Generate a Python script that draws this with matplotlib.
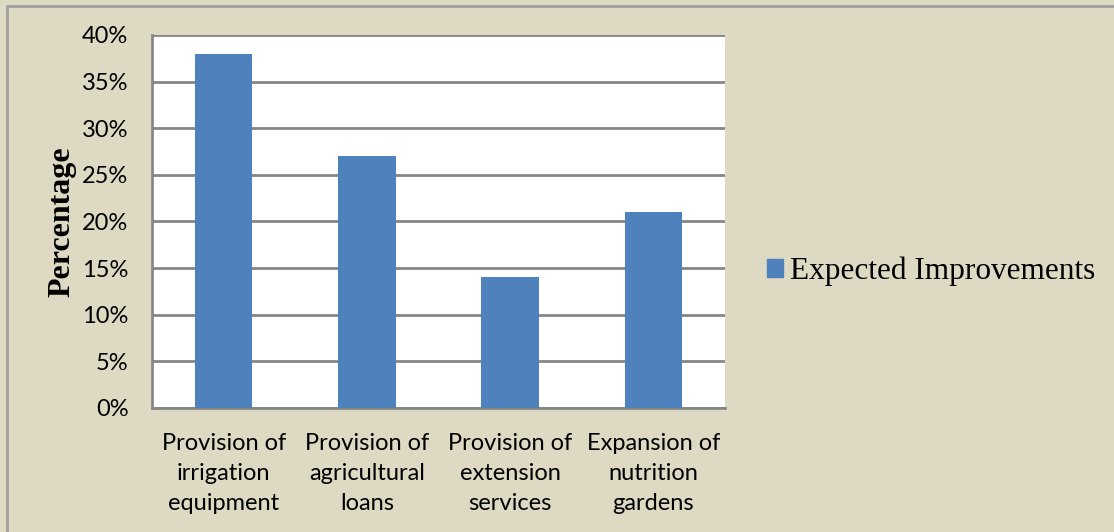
import matplotlib.pyplot as plt
from matplotlib.patches import Rectangle, Patch
from matplotlib.ticker import PercentFormatter

# dados
categorias = ["Provision of\nirrigation\nequipment",
              "Provision of\nagricultural\nloans",
              "Provision of\nextension\nservices",
              "Expansion of\nnutrition\ngardens"]
valores = [38, 27, 14, 21]
serie = "Expected Improvements"

fundo = "#DDD9C3"
azul = "#4F81BD"
cinza = "#868686"

fig = plt.figure(figsize=(11.14, 5.32), dpi=100, facecolor=fundo)
ax = fig.add_axes([152/1114, 1-408/532, 573/1114, 373/532])
ax.set_facecolor("white")

x = range(len(categorias))
ax.bar(x, valores, width=0.4, color=azul, zorder=3)

ax.set_ylim(0, 40)
ax.set_xlim(-0.5, len(categorias) - 0.5)
ax.set_yticks(range(0, 41, 5))
ax.yaxis.set_major_formatter(PercentFormatter(decimals=0))
ax.grid(axis="y", color=cinza, linewidth=2, zorder=0)
ax.set_xticks(list(x))
ax.set_xticklabels(categorias, fontsize=17, family="Lato", linespacing=1.52)
for t in ax.get_yticklabels():
    t.set_fontsize(17)
    t.set_family("Lato")
ax.tick_params(axis="y", length=0, pad=17)
ax.tick_params(axis="x", length=0, pad=18)

for s in ["top", "right"]:
    ax.spines[s].set_visible(False)
for s in ["left", "bottom"]:
    ax.spines[s].set_color(cinza)
    ax.spines[s].set_linewidth(2)

ax.set_ylabel("Percentage", family="Liberation Serif", fontweight="bold",
              fontsize=23, labelpad=4)

fig.legend(handles=[Patch(color=azul, label=serie)], loc="center left",
           bbox_to_anchor=(767/1114, 1-271/532), frameon=False, borderpad=0,
           borderaxespad=0,
           prop={"family": "Liberation Serif", "size": 22.5},
           handlelength=0.5, handleheight=0.5, handletextpad=0.22)

# moldura cinza
fig.patches.append(Rectangle((7/1114, -0.05), 1.1, 1-6/532+0.05,
                             transform=fig.transFigure, fill=False,
                             edgecolor="#A0A0A0", linewidth=2))

plt.savefig("out.png", dpi=100, facecolor=fundo)
